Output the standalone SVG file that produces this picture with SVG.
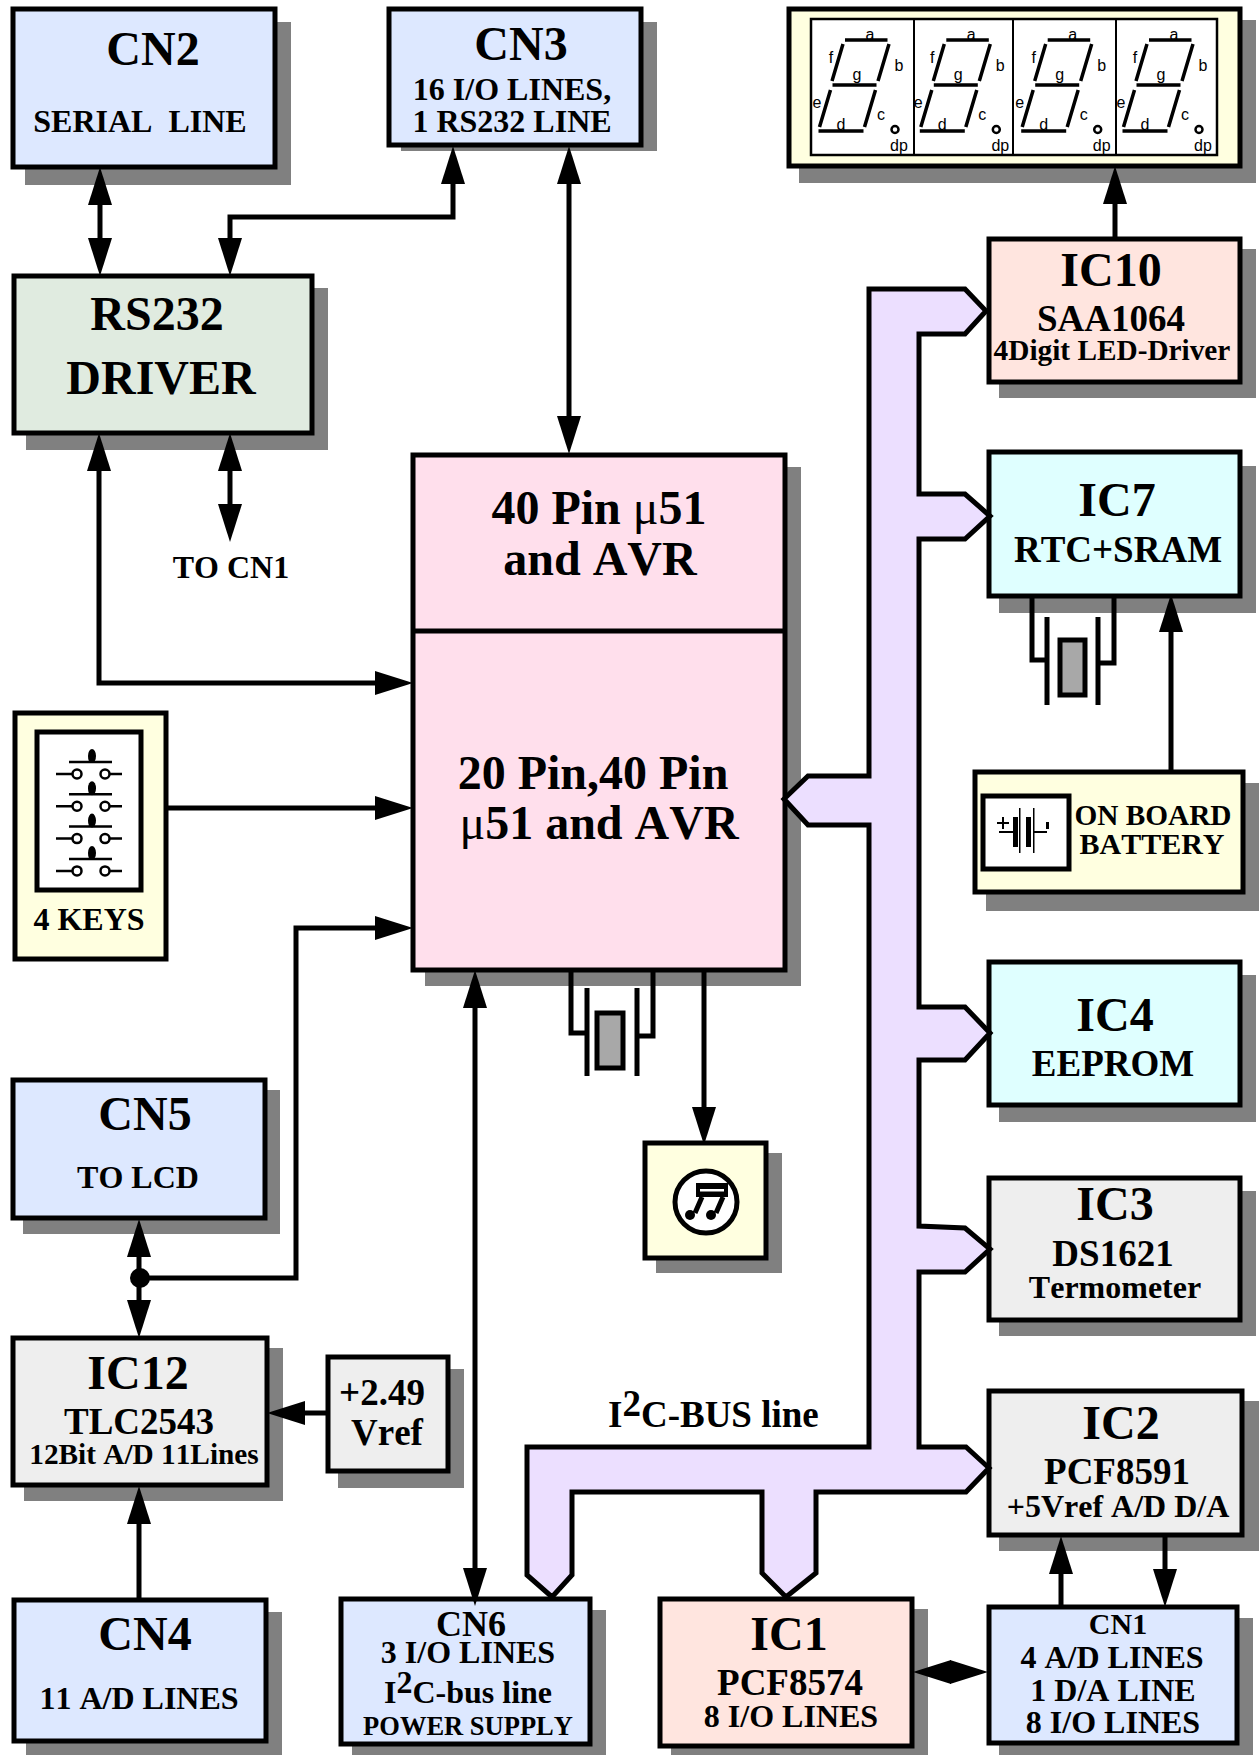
<svg xmlns="http://www.w3.org/2000/svg" width="1260" height="1755" viewBox="0 0 1260 1755">
<style>
text{font-family:"Liberation Serif","Times New Roman",serif;font-weight:bold;fill:#000;text-anchor:middle;white-space:pre;font-kerning:none}
.s{fill:#808080;stroke:none}
.b{stroke:#000;stroke-width:5}
.cn{fill:#dde8ff}.gr{fill:#e0ebe0}.pk{fill:#ffdfec}.pe{fill:#ffe5df}.cy{fill:#dfffff}.gy{fill:#eeeeee}.ye{fill:#ffffe0}.wh{fill:#fff}.xt{fill:#a8a8a8}
.w{fill:none;stroke:#000;stroke-width:5}
.t{fill:none;stroke:#000;stroke-width:2.5}
.f48{font-size:48px}.f37{font-size:37px}.f36{font-size:36px}.f32{font-size:32px}.f30{font-size:30px}.f29{font-size:29.300px}.f26{font-size:26.500px}
.mu{font-weight:normal}
.lab{font-family:"Liberation Sans",Arial,sans-serif;font-weight:normal;font-size:16px}
.seg{fill:none;stroke:#000;stroke-width:3.500}
.ar{fill:none;stroke:#000;stroke-width:5}
.bus{fill:#ecdfff;stroke:#000;stroke-width:5}
.div{fill:none;stroke:#000;stroke-width:2}
</style>
<defs>
<marker id="a" markerUnits="userSpaceOnUse" markerWidth="40" markerHeight="26" viewBox="0 0 40 26" refX="16" refY="13" orient="auto-start-reverse"><path d="M0,1 L38,13 L0,25 Z" fill="#000"/></marker>
<g id="seven">
<path class="seg" d="M845,40H887.5M832.500,85H876.500M818.500,131H863.500M843,44L832,81M889,44L878,81M830.500,90L819.500,127M875.500,90L864.500,127"/>
<circle cx="895" cy="129.500" r="3.500" fill="#fff" stroke="#000" stroke-width="2.500"/>
</g>
<g id="key">
<path class="t" d="M69,762H112M56,774H72M110,774H122"/>
<circle cx="77" cy="774" r="4.500" fill="#fff" stroke="#000" stroke-width="2.500"/>
<circle cx="105" cy="774" r="4.500" fill="#fff" stroke="#000" stroke-width="2.500"/>
<ellipse cx="92" cy="756" rx="4" ry="7" fill="#000"/>
<path class="t" d="M90,756V762"/>
</g>
</defs>

<g id="CN2"><rect class="s" x="25" y="22" width="266" height="163"/><rect class="b cn" x="13" y="9" width="262" height="158"/>
<text class="f48" x="153" y="65">CN2</text><text class="f32" x="140" y="132">SERIAL  LINE</text></g>

<g id="CN3"><rect class="s" x="401" y="22" width="256" height="129"/><rect class="b cn" x="389" y="9" width="252" height="136"/>
<text class="f48" x="521" y="60">CN3</text><text class="f32" x="512" y="100">16 I/O LINES,</text><text class="f32" x="512" y="132">1 RS232 LINE</text></g>

<g id="DISPLAY"><rect class="s" x="799" y="20" width="457" height="163"/><rect class="b ye" x="789" y="9" width="451" height="157"/>
<rect x="811" y="19" width="406" height="136" fill="#fff" stroke="#000" stroke-width="2.500"/>
<path class="div" d="M914,19V155"/><path class="div" d="M1013,19V155"/><path class="div" d="M1116,19V155"/>
<g id="digit1"><use href="#seven"/><text class="lab" x="870" y="40">a</text><text class="lab" x="831" y="63">f</text><text class="lab" x="899" y="71">b</text><text class="lab" x="857" y="80">g</text><text class="lab" x="817" y="108">e</text><text class="lab" x="881" y="120">c</text><text class="lab" x="841" y="130">d</text><text class="lab" x="899" y="151">dp</text></g>
<g id="digit2" transform="translate(101.300 0)"><use href="#seven"/><text class="lab" x="870" y="40">a</text><text class="lab" x="831" y="63">f</text><text class="lab" x="899" y="71">b</text><text class="lab" x="857" y="80">g</text><text class="lab" x="817" y="108">e</text><text class="lab" x="881" y="120">c</text><text class="lab" x="841" y="130">d</text><text class="lab" x="899" y="151">dp</text></g>
<g id="digit3" transform="translate(202.700 0)"><use href="#seven"/><text class="lab" x="870" y="40">a</text><text class="lab" x="831" y="63">f</text><text class="lab" x="899" y="71">b</text><text class="lab" x="857" y="80">g</text><text class="lab" x="817" y="108">e</text><text class="lab" x="881" y="120">c</text><text class="lab" x="841" y="130">d</text><text class="lab" x="899" y="151">dp</text></g>
<g id="digit4" transform="translate(304 0)"><use href="#seven"/><text class="lab" x="870" y="40">a</text><text class="lab" x="831" y="63">f</text><text class="lab" x="899" y="71">b</text><text class="lab" x="857" y="80">g</text><text class="lab" x="817" y="108">e</text><text class="lab" x="881" y="120">c</text><text class="lab" x="841" y="130">d</text><text class="lab" x="899" y="151">dp</text></g>
</g>

<g id="IC10"><rect class="s" x="999" y="249" width="257" height="149"/><rect class="b pe" x="989" y="239" width="251" height="143"/>
<text class="f48" x="1111" y="286">IC10</text><text class="f37" x="1111" y="331">SAA1064</text><text class="f29" x="1112" y="360">4Digit LED-Driver</text></g>

<g id="RS232"><rect class="s" x="26" y="288" width="302" height="162"/><rect class="b gr" x="14" y="276" width="298" height="157"/>
<text class="f48" x="157" y="330">RS232</text><text class="f48" x="161" y="394">DRIVER</text></g>

<g id="TOCN1"><text class="f32" x="231" y="578">TO CN1</text></g>

<g id="MCU"><rect class="s" x="425" y="467" width="376" height="519"/><rect class="b pk" x="413" y="455" width="372" height="515"/>
<path class="w" d="M413,631H785"/>
<text class="f48" x="599" y="524">40 Pin <tspan class="mu">μ</tspan>51</text><text class="f48" x="600" y="575">and AVR</text>
<text class="f48" x="593" y="789">20 Pin,40 Pin</text><text class="f48" x="599" y="839"><tspan class="mu">μ</tspan>51 and AVR</text></g>

<g id="IC7"><rect class="s" x="999" y="466" width="257" height="147"/><rect class="b cy" x="989" y="452" width="251" height="144"/>
<text class="f48" x="1117" y="516">IC7</text><text class="f37" x="1118" y="562">RTC+SRAM</text></g>

<g id="XTAL1"><path class="w" d="M1032,596V660H1047M1114,596V663H1098"/><path class="w" d="M1047,617V705M1098,617V705"/><rect class="b xt" x="1060" y="640" width="25" height="55"/></g>

<g id="BATTERY"><rect class="s" x="986" y="783" width="273" height="128"/><rect class="b ye" x="975" y="772" width="268" height="120"/>
<rect class="b wh" x="983" y="796" width="86" height="73"/>
<path class="t" style="stroke-width:2" d="M999,832H1013M1034,832H1047M997,823H1009M1003,817V829"/><rect x="1013" y="817" width="5" height="30"/><rect x="1019" y="808" width="1.500" height="45"/><rect x="1026" y="817" width="5" height="30"/><rect x="1033" y="808" width="1.500" height="45"/><rect x="1046" y="822" width="3" height="7"/>
<text class="f29" x="1153" y="825">ON BOARD</text><text class="f30" x="1152" y="854">BATTERY</text></g>

<g id="IC4"><rect class="s" x="999" y="975" width="257" height="147"/><rect class="b cy" x="989" y="962" width="251" height="143"/>
<text class="f48" x="1115" y="1031">IC4</text><text class="f37" x="1113" y="1076">EEPROM</text></g>

<g id="IC3"><rect class="s" x="999" y="1191" width="257" height="145"/><rect class="b gy" x="989" y="1178" width="251" height="142"/>
<text class="f48" x="1115" y="1220">IC3</text><text class="f37" x="1113" y="1266">DS1621</text><text class="f32" x="1115" y="1298">Termometer</text></g>

<g id="IC2"><rect class="s" x="999" y="1401" width="260" height="150"/><rect class="b gy" x="989" y="1391" width="253" height="144"/>
<text class="f48" x="1121" y="1439">IC2</text><text class="f37" x="1117" y="1484">PCF8591</text><text class="f32" x="1118" y="1517">+5Vref A/D D/A</text></g>

<g id="CN1"><rect class="s" x="999" y="1618" width="254" height="137"/><rect class="b cn" x="989" y="1607" width="248" height="136"/>
<text class="f30" x="1118" y="1634">CN1</text><text class="f32" x="1112" y="1668">4 A/D LINES</text><text class="f32" x="1113" y="1701">1 D/A LINE</text><text class="f32" x="1113" y="1733">8 I/O LINES</text></g>

<g id="IC1"><rect class="s" x="671" y="1609" width="257" height="146"/><rect class="b pe" x="660" y="1599" width="252" height="147"/>
<text class="f48" x="789" y="1650">IC1</text><text class="f37" x="790" y="1695">PCF8574</text><text class="f32" x="791" y="1727">8 I/O LINES</text></g>

<g id="CN6"><rect class="s" x="352" y="1610" width="254" height="145"/><rect class="b cn" x="341" y="1599" width="249" height="145"/>
<text class="f36" x="471" y="1636">CN6</text><text class="f32" x="468" y="1663">3 I/O LINES</text><text class="f32" x="468" y="1703">I<tspan dy="-10">2</tspan><tspan dy="10">C-bus line</tspan></text><text class="f26" x="468" y="1735">POWER SUPPLY</text></g>

<g id="CN4"><rect class="s" x="26" y="1612" width="256" height="143"/><rect class="b cn" x="14" y="1600" width="252" height="141"/>
<text class="f48" x="145" y="1650">CN4</text><text class="f32" x="139" y="1709">11 A/D LINES</text></g>

<g id="IC12"><rect class="s" x="24" y="1348" width="259" height="153"/><rect class="b gy" x="13" y="1338" width="254" height="147"/>
<text class="f48" x="138" y="1389">IC12</text><text class="f37" x="139" y="1434">TLC2543</text><text class="f29" x="144" y="1464">12Bit A/D 11Lines</text></g>

<g id="VREF"><rect class="s" x="338" y="1369" width="126" height="119"/><rect class="b gy" x="328" y="1357" width="120" height="114"/>
<text class="f37" x="382" y="1405">+2.49</text><text class="f37" x="387" y="1445">Vref</text></g>

<g id="CN5"><rect class="s" x="23" y="1090" width="257" height="144"/><rect class="b cn" x="13" y="1080" width="252" height="138"/>
<text class="f48" x="145" y="1130">CN5</text><text class="f32" x="138" y="1188">TO LCD</text></g>

<g id="KEYS"><rect class="b ye" x="15" y="713" width="151" height="246"/><rect class="b wh" x="37" y="732" width="104" height="158"/>
<use href="#key"/><use href="#key" y="32.300"/><use href="#key" y="64.600"/><use href="#key" y="96.900"/>
<text class="f32" x="89" y="930">4 KEYS</text></g>

<g id="XTAL2"><path class="w" d="M571,972V1033H587M653,972V1036H637"/><path class="w" d="M587,988V1076M637,988V1076"/><rect class="b xt" x="597" y="1013" width="26" height="55"/></g>

<g id="BUZZER"><rect class="s" x="656" y="1153" width="126" height="120"/><rect class="b ye" x="645" y="1143" width="121" height="115"/>
<circle class="b wh" cx="706" cy="1202" r="31"/>
<rect x="696" y="1183" width="32" height="14"/><rect x="700" y="1189" width="24" height="2.500" fill="#fff"/>
<path class="w" d="M702,1197L695,1213M723,1197L716,1213"/><circle cx="690" cy="1215" r="5"/><circle cx="711" cy="1215" r="5"/></g>

<g id="connectors">
<path class="bus" id="i2c-bus" d="M869,289H965L986,311L965,334H919V494H965L990,516L965,539H919V1007H965L990,1033L965,1060H919V1226L965,1228L990,1249L965,1272H919V1447H966L989,1468L966,1492H816V1573L786,1597L762,1573V1492H572V1575L552,1597L527,1575V1447H869V825H808L784,799L808,776H869Z"/>
<text class="f37" x="608" y="1427" style="text-anchor:start">I<tspan dy="-11">2</tspan><tspan dy="11">C-BUS line</tspan></text>
<g marker-start="url(#a)" marker-end="url(#a)" class="ar">
<path d="M100,189V254"/>
<path d="M453,168V217H230V254"/>
<path d="M569,168V432"/>
<path d="M230,455V520"/>
<path d="M99,455V683H391"/>
<path d="M475,992V1584"/>
<path d="M139,1241V1316"/>
<path d="M935,1672H966"/>
</g>
<g marker-end="url(#a)" class="ar">
<path d="M168,808H391"/>
<path d="M140,1278H296V928H391"/>
<path d="M326,1413H289"/>
<path d="M139,1598V1508"/>
<path d="M704,972V1123"/>
<path d="M1171,772V616"/>
<path d="M1115,239V188"/>
<path d="M1061,1607V1558"/>
<path d="M1165,1537V1585"/>
</g>
<circle cx="140" cy="1278" r="10"/>
</g>
</svg>
